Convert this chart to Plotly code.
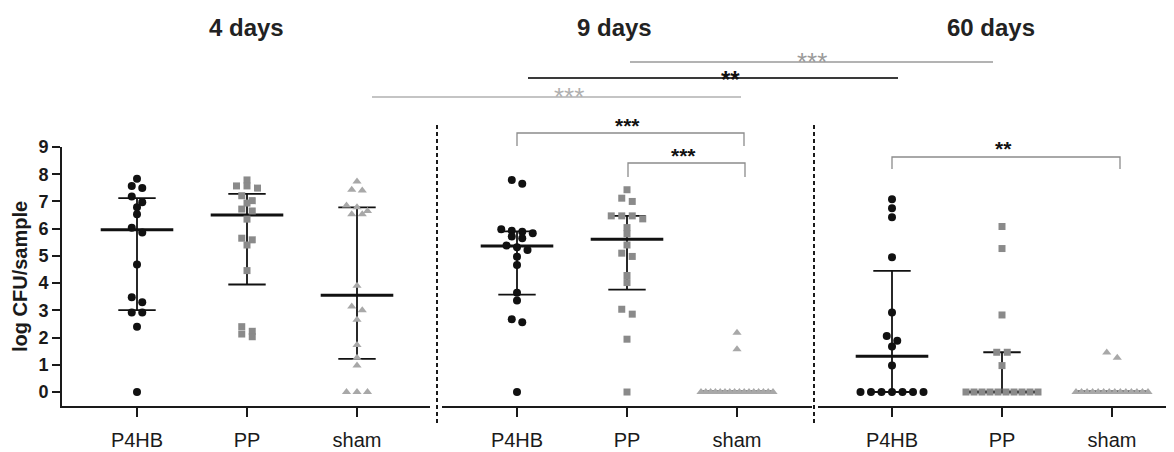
import plotly.graph_objects as go

# ---------------- data ----------------
groups = ["P4HB", "PP", "sham"]
panel_titles = ["4 days", "9 days", "60 days"]

p4hb_4d = [7.83, 7.57, 7.49, 7.18, 6.97, 6.79, 6.53, 6.03, 5.86, 4.68, 3.48, 3.30, 2.92, 2.92, 2.40, 0.0]
pp_4d = [7.79, 7.57, 7.57, 7.49, 7.21, 7.03, 6.94, 6.72, 6.65, 6.35, 5.65, 5.59, 5.40, 4.46, 2.40, 2.23, 2.13, 2.03]
sham_4d = [7.73, 7.43, 7.40, 6.85, 6.79, 6.65, 6.53, 6.53, 3.90, 3.14, 3.00, 2.65, 1.73, 1.26, 0.97, 0.0, 0.0, 0.0]

p4hb_9d = [7.79, 7.65, 5.98, 5.92, 5.89, 5.83, 5.71, 5.65, 5.38, 5.32, 5.22, 4.97, 4.67, 3.65, 3.36, 2.67, 2.56, 0.0]
pp_9d = [7.43, 7.12, 7.00, 6.47, 6.47, 6.47, 6.36, 6.04, 5.81, 5.40, 5.10, 4.98, 4.28, 4.02, 3.04, 2.86, 1.94, 0.0]
sham_9d = [2.18, 1.57, 0.0, 0.0, 0.0, 0.0, 0.0, 0.0, 0.0, 0.0, 0.0, 0.0, 0.0, 0.0, 0.0, 0.0, 0.0, 0.0]

p4hb_60d = [7.08, 6.75, 6.42, 4.95, 2.92, 2.06, 1.88, 1.67, 0.97, 0.0, 0.0, 0.0, 0.0, 0.0, 0.0, 0.0]
pp_60d = [6.08, 5.27, 2.83, 1.46, 1.46, 0.97, 0.0, 0.0, 0.0, 0.0, 0.0, 0.0, 0.0, 0.0, 0.0, 0.0]
sham_60d = [1.45, 1.26, 0.0, 0.0, 0.0, 0.0, 0.0, 0.0, 0.0, 0.0, 0.0, 0.0, 0.0, 0.0, 0.0, 0.0]

# median and interquartile range per group
median_4d = [5.96, 6.50, 3.55]
q1_4d = [3.01, 3.95, 1.22]
q3_4d = [7.12, 7.28, 6.78]
median_9d = [5.36, 5.61, 0.0]
q1_9d = [3.58, 3.76, 0.0]
q3_9d = [5.90, 6.47, 0.0]
median_60d = [1.31, 0.0, 0.0]
q1_60d = [0.0, 0.0, 0.0]
q3_60d = [4.45, 1.46, 0.0]

y_ticks = [0, 1, 2, 3, 4, 5, 6, 7, 8, 9]
y_title = "log CFU/sample"

panels = [
    dict(values=[p4hb_4d, pp_4d, sham_4d], med=median_4d, q1=q1_4d, q3=q3_4d),
    dict(values=[p4hb_9d, pp_9d, sham_9d], med=median_9d, q1=q1_9d, q3=q3_9d),
    dict(values=[p4hb_60d, pp_60d, sham_60d], med=median_60d, q1=q1_60d, q3=q3_60d),
]

# ---------------- geometry / style ----------------
PAGE_W, PAGE_H = 1174, 452
BODY = 8                                # default page margin around the plot div
W, H = PAGE_W - BODY, PAGE_H - BODY
PLOT_L, PLOT_R, PLOT_T, PLOT_B = 62, 1170, 147, 406   # plot area in page pixels
ML, MR, MT, MB = PLOT_L - BODY, PAGE_W - PLOT_R, PLOT_T - BODY, PAGE_H - PLOT_B
PW, PH = PLOT_R - PLOT_L, PLOT_B - PLOT_T
CAT_PX = 110.0                          # px between categories
panel_px = [(62, 430, 137), (442, 812, 517), (818, 1170, 892)]  # left, right, first category
Y_RANGE = [-0.514, 9.0]

FONT = "Arial, 'Liberation Sans', sans-serif"
INK = "#1a1a1a"
marker_style = [
    dict(symbol="circle", size=8, color="#111111"),
    dict(symbol="square", size=7, color="#8a8a8a"),
    dict(symbol="triangle-up", size=8, color="#a8a8a8"),
]


def px_x(px):
    return (px - PLOT_L) / PW


def px_y(py):
    return (PLOT_B - py) / PH


def swarm_offsets(vals, spacing_px=10.5, row_tol=0.21, max_w_px=72.0):
    """Simple row-based beeswarm: returns x offsets in category units."""
    order = sorted(range(len(vals)), key=lambda i: -vals[i])
    rows, cur = [], []
    for i in order:
        if cur and vals[cur[0]] - vals[i] > row_tol:
            rows.append(cur)
            cur = []
        cur.append(i)
    if cur:
        rows.append(cur)
    offs = [0.0] * len(vals)
    for row in rows:
        n = len(row)
        sp = spacing_px if n < 2 else min(spacing_px, max_w_px / (n - 1))
        for k, i in enumerate(row):
            offs[i] = (k - (n - 1) / 2.0) * sp / CAT_PX
    return offs


fig = go.Figure()
axis_names = ["x", "x2", "x3"]

for p, panel in enumerate(panels):
    ax = axis_names[p]
    for g in range(3):
        vals = panel["values"][g]
        med, lo, hi = panel["med"][g], panel["q1"][g], panel["q3"][g]
        fig.add_trace(go.Scatter(x=[g - 0.33, g + 0.33], y=[med, med], mode="lines",
                                 line=dict(color="#111111", width=3), xaxis=ax, yaxis="y",
                                 showlegend=False, hoverinfo="skip"))
        fig.add_trace(go.Scatter(
            x=[g, g, None, g - 0.17, g + 0.17, None, g - 0.17, g + 0.17],
            y=[lo, hi, None, lo, lo, None, hi, hi], mode="lines",
            line=dict(color="#111111", width=1.8), xaxis=ax, yaxis="y",
            showlegend=False, hoverinfo="skip"))
        offs = swarm_offsets(vals)
        fig.add_trace(go.Scatter(
            x=[g + o for o in offs], y=vals, mode="markers",
            marker=dict(symbol=marker_style[g]["symbol"], size=marker_style[g]["size"],
                        color=marker_style[g]["color"], line=dict(width=0)),
            xaxis=ax, yaxis="y", showlegend=False, cliponaxis=False,
            name=f"{groups[g]} {panel_titles[p]}"))

layout_axes = {}
for p in range(3):
    left, right, first = panel_px[p]
    r0 = -(first - left) / CAT_PX
    r1 = r0 + (right - left) / CAT_PX
    key = "xaxis" if p == 0 else f"xaxis{p + 1}"
    layout_axes[key] = dict(
        domain=[px_x(left), px_x(right)], range=[r0, r1], anchor="y",
        tickmode="array", tickvals=[0, 1, 2], ticktext=groups,
        showline=True, linecolor=INK, linewidth=2,
        ticks="outside", ticklen=9, tickwidth=2, tickcolor=INK,
        ticklabelstandoff=6, automargin=False,
        tickfont=dict(family=FONT, size=20, color=INK),
        showgrid=False, zeroline=False, fixedrange=True)

fig.update_layout(
    width=W, height=H,
    margin=dict(l=ML, r=MR, t=MT, b=MB, pad=0, autoexpand=False),
    paper_bgcolor="white", plot_bgcolor="white",
    showlegend=False,
    yaxis=dict(range=Y_RANGE, tickmode="array", tickvals=y_ticks,
               showline=True, linecolor=INK, linewidth=2,
               ticks="outside", ticklen=8, tickwidth=2, tickcolor=INK,
               tickfont=dict(family=FONT, size=18, color=INK, weight="bold"),
               showgrid=False, zeroline=False, anchor="x", fixedrange=True,
               automargin=False),
    **layout_axes,
)

annotations = []
shapes = []

# panel titles
title_px = [246, 614, 991]
for t, xp in zip(panel_titles, title_px):
    annotations.append(dict(text=t, x=px_x(xp), y=px_y(27), xref="paper", yref="paper",
                            xanchor="center", yanchor="middle", showarrow=False,
                            font=dict(family=FONT, size=24, color="#222222", weight="bold")))

# y-axis title
annotations.append(dict(text=y_title, x=px_x(20), y=px_y(277), xref="paper", yref="paper",
                        textangle=-90, xanchor="center", yanchor="middle", showarrow=False,
                        font=dict(family=FONT, size=20, color=INK, weight="bold")))

# dashed separators between panels
for xs in (437, 814):
    shapes.append(dict(type="line", xref="paper", yref="paper",
                       x0=px_x(xs), x1=px_x(xs), y0=px_y(125), y1=px_y(423),
                       line=dict(color=INK, width=2, dash="4px,3px")))


def star_label(text, xp, yp, size, color, weight):
    # asterisks sit high in the em box; shift the box so the glyphs centre on yp
    return dict(text=text, x=px_x(xp), y=px_y(yp + 0.22 * size), xref="paper", yref="paper",
                xanchor="center", yanchor="middle", showarrow=False,
                font=dict(family=FONT, size=size, color=color, weight=weight))


# comparison lines across time points
top_lines = [
    dict(x0=630, x1=993, y=62, color="#9a9a9a", width=1.4, text="***", tx=812, ty=56,
         tcolor="#9a9a9a", size=26, weight="normal"),
    dict(x0=528, x1=898, y=78, color="#3a3a3a", width=1.8, text="**", tx=730, ty=74,
         tcolor="#111111", size=24, weight="bold"),
    dict(x0=372, x1=741, y=97, color="#b0b0b0", width=1.4, text="***", tx=569, ty=91,
         tcolor="#b0b0b0", size=26, weight="normal"),
]
for tl in top_lines:
    shapes.append(dict(type="line", xref="paper", yref="paper",
                       x0=px_x(tl["x0"]), x1=px_x(tl["x1"]), y0=px_y(tl["y"]), y1=px_y(tl["y"]),
                       line=dict(color=tl["color"], width=tl["width"])))
    annotations.append(star_label(tl["text"], tl["tx"], tl["ty"], tl["size"], tl["tcolor"], tl["weight"]))

# within-panel brackets
brackets = [
    dict(x0=517, x1=744, top=133, leg=146, text="***", tx=627, ty=121),
    dict(x0=628, x1=745, top=163, leg=177, text="***", tx=683, ty=151),
    dict(x0=892, x1=1120, top=157, leg=169, text="**", tx=1003, ty=144),
]
for b in brackets:
    shapes.append(dict(type="path", xref="paper", yref="paper",
                       path=(f"M {px_x(b['x0'])},{px_y(b['leg'])} L {px_x(b['x0'])},{px_y(b['top'])} "
                             f"L {px_x(b['x1'])},{px_y(b['top'])} L {px_x(b['x1'])},{px_y(b['leg'])}"),
                       line=dict(color="#8c8c8c", width=1.3)))
    annotations.append(star_label(b["text"], b["tx"], b["ty"], 21, "#111111", "bold"))

fig.update_layout(annotations=annotations, shapes=shapes)
fig.write_html("out.html")
